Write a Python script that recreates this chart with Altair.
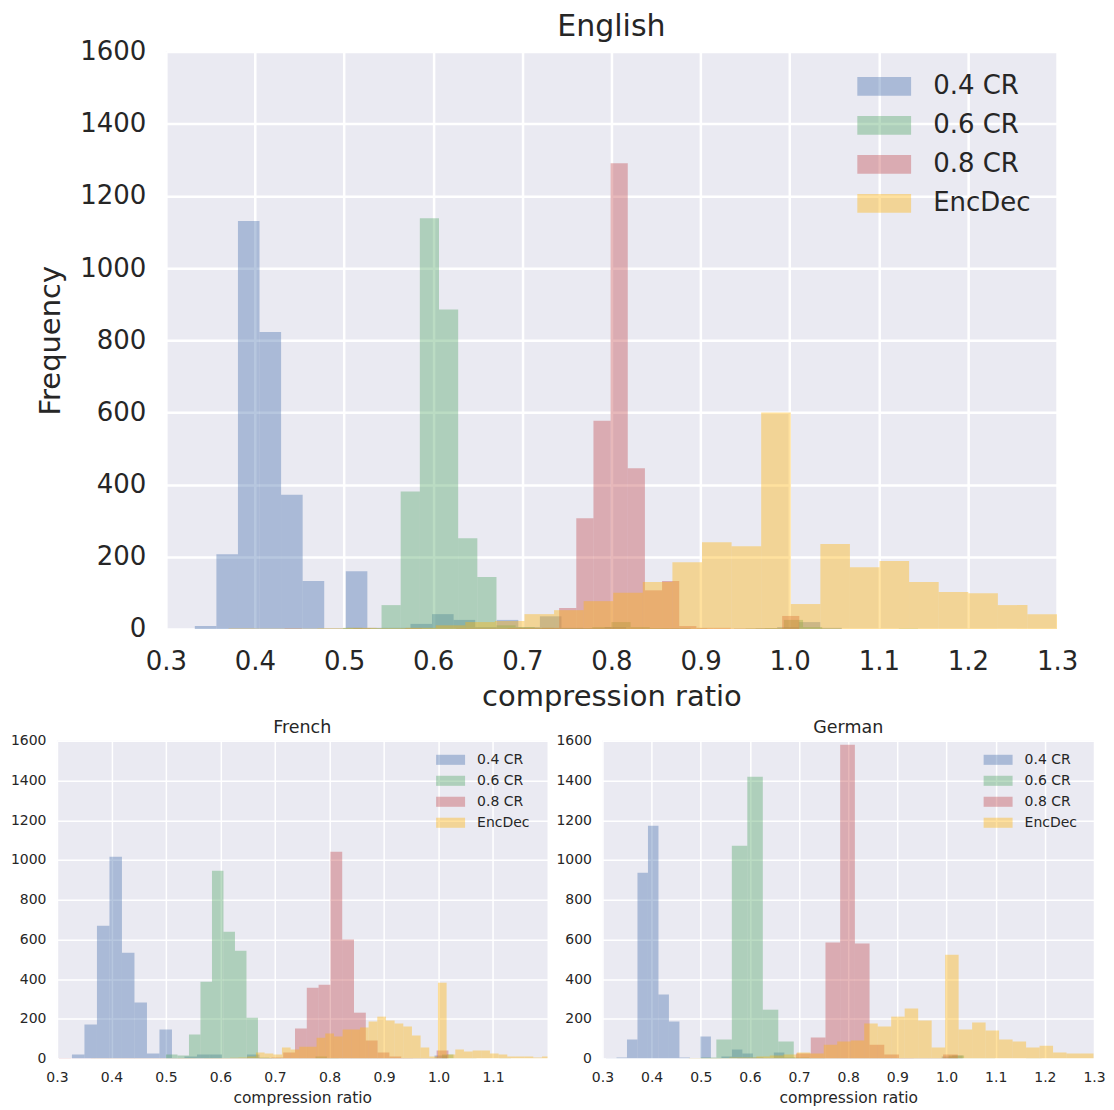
import altair as alt
import numpy as np
import pandas as pd

FONT = "DejaVu Sans"
DARK = "#262626"
PLOT_BG = "#EAEAF2"

SERIES = ["0.4 CR", "0.6 CR", "0.8 CR", "EncDec"]
COLORS = ["#4C72B0", "#55A868", "#C44E52", "#FEB50D"]

Y_TICKS = [0, 200, 400, 600, 800, 1000, 1200, 1400, 1600]
EN_X_TICKS = [0.3, 0.4, 0.5, 0.6, 0.7, 0.8, 0.9, 1.0, 1.1, 1.2, 1.3]
FR_X_TICKS = [0.3, 0.4, 0.5, 0.6, 0.7, 0.8, 0.9, 1.0, 1.1]
DE_X_TICKS = [0.3, 0.4, 0.5, 0.6, 0.7, 0.8, 0.9, 1.0, 1.1, 1.2, 1.3]

# ---------------- English (histogram range [lo, hi] and bin counts) ----------------
EN_CR04_RANGE = [0.3325, 1.0585]
EN_CR04 = [8, 207, 1130, 823, 372, 133, 2, 160, 3, 3,
           14, 41, 25, 5, 25, 5, 35, 3, 2, 5,
           1, 1, 1, 0, 0, 1, 2, 5, 19, 3]
EN_CR06_RANGE = [0.499, 1.144]
EN_CR06 = [3, 2, 66, 381, 1138, 885, 251, 144, 10, 5,
           3, 2, 2, 5, 19, 5, 2, 1, 1, 0,
           0, 1, 2, 25, 5, 1, 0, 0, 0, 1]
EN_CR08_RANGE = [0.4333, 1.0108]
EN_CR08 = [1, 0, 0, 0, 1, 0, 0, 1, 0, 0,
           1, 1, 1, 2, 2, 3, 58, 307, 577, 1290,
           445, 107, 133, 8, 3, 3, 1, 1, 1, 36]
EN_ENC_RANGE = [0.3704, 1.3664]
EN_ENC = [1, 1, 1, 2, 3, 2, 3, 10, 19, 22,
          41, 52, 77, 100, 130, 185, 240, 229, 600, 69,
          235, 171, 188, 130, 102, 99, 66, 41, 28, 20]

# ---------------- French ----------------
FR_CR04_RANGE = [0.3275, 1.0157]
FR_CR04 = [20, 171, 669, 1016, 533, 282, 25, 146, 3, 10,
           20, 20, 2, 2, 20, 3, 2, 2, 1, 1,
           1, 1, 1, 1, 1, 1, 1, 1, 2, 15]
FR_CR06_RANGE = [0.5, 1.133]
FR_CR06 = [20, 15, 121, 387, 946, 639, 543, 206, 5, 3,
           2, 2, 2, 10, 3, 2, 1, 1, 1, 1,
           1, 1, 1, 1, 20, 2, 1, 0, 0, 1]
FR_CR08_RANGE = [0.3037, 1.0182]
FR_CR08 = [3, 1, 1, 1, 1, 1, 1, 1, 1, 1,
           1, 1, 1, 1, 2, 2, 2, 3, 5, 30,
           151, 357, 372, 1042, 599, 231, 91, 30, 10, 3,
           2, 1, 40]
FR_ENC_RANGE = [0.363, 1.2057]
FR_ENC = [1, 1, 1, 1, 2, 1, 1, 2, 2, 2,
          3, 3, 2, 3, 3, 3, 4, 5, 10, 30,
          25, 20, 55, 45, 60, 60, 105, 126, 111, 146,
          146, 156, 186, 211, 191, 176, 161, 116, 55, 10,
          382, 20, 45, 35, 40, 40, 25, 20, 10, 10,
          10, 5, 10]

# ---------------- German ----------------
DE_CR04_RANGE = [0.3072, 1.0328]
DE_CR04 = [2, 5, 96, 936, 1172, 322, 186, 5, 2, 111,
           3, 10, 45, 25, 5, 3, 30, 5, 2, 2,
           1, 1, 1, 1, 1, 1, 1, 1, 1, 1,
           1, 1, 10, 15]
DE_CR06_RANGE = [0.5002, 1.1932]
DE_CR06 = [5, 96, 1072, 1419, 246, 86, 5, 3, 2, 2,
           1, 1, 1, 1, 1, 1, 15, 1, 1, 0,
           0, 1]
DE_CR08_RANGE = [0.5743, 1.0228]
DE_CR08 = [1, 1, 2, 2, 25, 106, 584, 1580, 579, 70,
           20, 3, 2, 1, 20]
DE_ENC_RANGE = [0.4758, 1.299]
DE_ENC = [3, 3, 3, 5, 5, 10, 15, 20, 30, 25,
          70, 86, 91, 176, 161, 211, 252, 191, 55, 523,
          146, 181, 141, 96, 86, 55, 65, 30, 25, 25]


def frame(groups):
    rows = []
    for order, (name, rng, counts) in enumerate(groups):
        edges = np.linspace(rng[0], rng[1], len(counts) + 1)
        for i, c in enumerate(counts):
            rows.append(dict(series=name, order=order, x0=float(edges[i]),
                             x1=float(edges[i + 1]), count=c))
    return pd.DataFrame(rows)


SYMBOL = "M-2.07,-0.72H2.07V0.72H-2.07Z"


def panel(df, title, xdom, xticks, width, height, s):
    common = dict(grid=True, gridColor="white", gridWidth=s["grid"], domain=False,
                  ticks=False, labelColor=DARK, titleColor=DARK,
                  labelFontSize=s["label"], titleFontSize=s["axtitle"],
                  titleFontWeight="normal", labelFont=FONT, titleFont=FONT,
                  labelOverlap=False, labelFlush=False)
    x = alt.X("x0:Q", scale=alt.Scale(domain=xdom, nice=False, zero=False),
              axis=alt.Axis(values=xticks, format=".1f", title="compression ratio",
                            labelPadding=s["xpad"], titlePadding=s["xtpad"], **common))
    y = alt.Y("count:Q", stack=False, scale=alt.Scale(domain=[0, 1600], nice=False),
              axis=alt.Axis(values=Y_TICKS, format="d", title=s["ytitle"],
                            labelPadding=s["ypad"], titlePadding=s["ytpad"], **common))
    legend = alt.Legend(title=None, orient="none", legendX=s["lx"], legendY=s["ly"],
                        symbolType=SYMBOL, symbolSize=s["label"] ** 2, symbolOpacity=0.4,
                        symbolStrokeWidth=0, labelFontSize=s["label"], labelColor=DARK,
                        labelFont=FONT, rowPadding=s["rowpad"], labelOffset=s["loff"],
                        padding=0)
    return alt.Chart(df).mark_bar(opacity=0.4, clip=True, strokeWidth=0).encode(
        x=x,
        x2="x1:Q",
        y=y,
        y2=alt.datum(0),
        color=alt.Color("series:N", scale=alt.Scale(domain=SERIES, range=COLORS),
                        legend=legend),
        order=alt.Order("order:Q"),
    ).properties(
        width=width, height=height,
        title=alt.TitleParams(text=title, fontSize=s["head"], font=FONT,
                              fontWeight="normal", color=DARK, offset=s["toff"],
                              anchor="middle"),
        view=alt.ViewBackground(fill=PLOT_BG, strokeWidth=0),
    )


BIG = dict(grid=2.5, label=26, axtitle=29, head=30, xpad=20, xtpad=8, ypad=20, ytpad=14,
           ytitle="Frequency", lx=815, ly=22, rowpad=13, loff=36, toff=-4)
SMALL_FR = dict(grid=1.5, label=14, axtitle=15.5, head=17.5, xpad=12, xtpad=6, ypad=11,
                ytpad=4, ytitle=None, lx=387, ly=12, rowpad=7, loff=19.5, toff=-3)
SMALL_DE = dict(SMALL_FR, lx=389)

en_df = frame([("0.4 CR", EN_CR04_RANGE, EN_CR04), ("0.6 CR", EN_CR06_RANGE, EN_CR06),
               ("0.8 CR", EN_CR08_RANGE, EN_CR08), ("EncDec", EN_ENC_RANGE, EN_ENC)])
fr_df = frame([("0.4 CR", FR_CR04_RANGE, FR_CR04), ("0.6 CR", FR_CR06_RANGE, FR_CR06),
               ("0.8 CR", FR_CR08_RANGE, FR_CR08), ("EncDec", FR_ENC_RANGE, FR_ENC)])
de_df = frame([("0.4 CR", DE_CR04_RANGE, DE_CR04), ("0.6 CR", DE_CR06_RANGE, DE_CR06),
               ("0.8 CR", DE_CR08_RANGE, DE_CR08), ("EncDec", DE_ENC_RANGE, DE_ENC)])

en = panel(en_df, "English", [0.3, 1.3], EN_X_TICKS, 892, 578, BIG)
fr = panel(fr_df, "French", [0.3, 1.2], FR_X_TICKS, 491, 318, SMALL_FR)
de = panel(de_df, "German", [0.3, 1.3], DE_X_TICKS, 492, 318, SMALL_DE)

spacer = alt.Chart(pd.DataFrame({"v": [0]})).mark_point(opacity=0, size=1).encode(
    x=alt.value(0), y=alt.value(0)
).properties(width=1, height=1, view=alt.ViewBackground(fill="white", strokeWidth=0))

top_row = alt.hconcat(spacer, en, spacing=-22)
bottom_row = alt.hconcat(fr, de, spacing=8).resolve_scale(
    color="independent").resolve_legend(color="independent")

chart = alt.vconcat(top_row, bottom_row, spacing=7).resolve_scale(
    color="independent").resolve_legend(color="independent").properties(
    padding={"left": 2, "top": 4, "right": 0, "bottom": 0}).configure(
    font=FONT, background="white")

chart.save("out.html", embed_options={"renderer": "svg", "actions": False})
